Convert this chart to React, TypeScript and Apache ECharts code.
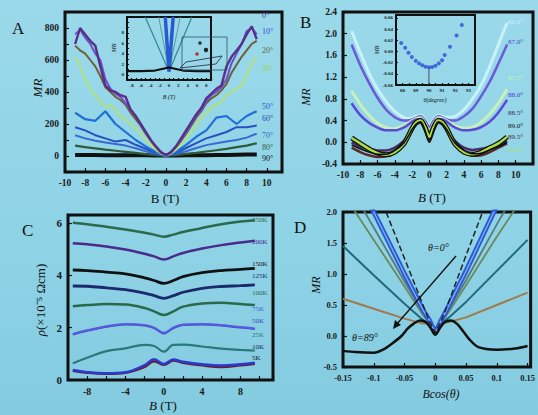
import React, { useEffect, useRef } from 'react';
import * as echarts from 'echarts';

const FONT = 'Liberation Serif';

// ---------- Panel A : MR vs B for tilt angles ----------
const A_X_FINE = [-9,-8.5,-8,-7.5,-7,-6.5,-6,-5.5,-5,-4.5,-4,-3.5,-3,-2.5,-2,-1.5,-1,-0.5,0,0.5,1,1.5,2,2.5,3,3.5,4,4.5,5,5.5,6,6.5,7,7.5,8,8.5,9];
const A_X = [-9,-8,-7,-6,-5,-4,-3,-2,-1,0,1,2,3,4,5,6,7,8,9];
const A_0 = [700,800,760,720,690,560,440,410,400,380,370,290,250,200,150,100,60,25,5,25,60,110,160,210,260,300,360,390,420,440,560,620,660,700,760,810,730];
const A_10 = [760,790,740,700,640,600,480,420,390,370,330,290,250,200,150,100,60,25,5,25,60,100,150,200,250,290,340,380,400,430,480,580,640,700,780,800,760];
const A_20 = [690,660,640,600,560,500,430,400,370,350,320,270,230,190,140,95,55,20,5,20,55,95,140,190,240,280,330,360,380,410,450,520,570,620,660,700,720];
const A_30 = [620,560,480,420,380,340,300,320,290,250,230,200,170,140,100,70,40,15,3,15,40,70,110,150,190,240,270,300,320,340,380,400,420,440,500,580,620];
const A_50 = [270,230,220,280,200,150,100,60,25,2,25,70,120,160,240,250,200,250,280];
const A_60 = [180,160,130,110,90,100,70,45,20,2,20,50,80,110,130,150,180,180,190];
const A_70 = [130,110,95,85,75,65,48,30,14,2,14,30,50,68,80,90,100,115,140];
const A_80 = [65,55,48,40,33,26,19,12,6,2,6,13,20,28,36,45,55,65,80];
const A_90 = [6,6,6,5,5,5,4,4,3,3,3,4,4,5,6,7,8,9,10];
const A_LABELS = ['0°','10°','20°','30°','50°','60°','70°','80°','90°'];

// inset of A
const AIN_X = [-9,-6,-3,-1,0,1,3,6,9];
const AIN_BASE = [0.7,0.7,0.8,1.2,1.4,1.2,0.8,0.7,0.7];
const AIN_V_X1 = [-5.1,0,4.9];
const AIN_V_Y1 = [11,0.6,11];
const AIN_V_X2 = [-2.2,0,2.4];
const AIN_V_Y2 = [11,0.6,11];
const AIN_V_X3 = [-0.8,0,0.9];
const AIN_V_Y3 = [11,0.6,11];

// ---------- Panel B ----------
const B_X = [-9,-8,-7,-6,-5,-4,-3,-2.5,-2,-1.5,-1,-0.5,0,0.5,1,1.5,2,2.5,3,4,5,6,7,8,9];
const B_860 = [2.05,1.65,1.28,0.98,0.75,0.57,0.46,0.44,0.45,0.48,0.5,0.42,0.3,0.42,0.5,0.48,0.46,0.46,0.48,0.6,0.8,1.05,1.4,1.8,2.2];
const B_870 = [1.8,1.42,1.1,0.82,0.6,0.46,0.4,0.4,0.42,0.46,0.48,0.4,0.28,0.4,0.48,0.46,0.42,0.4,0.4,0.48,0.62,0.85,1.12,1.45,1.8];
const B_875 = [0.95,0.7,0.5,0.35,0.27,0.25,0.3,0.35,0.4,0.44,0.45,0.35,0.2,0.35,0.45,0.44,0.4,0.35,0.3,0.26,0.28,0.37,0.52,0.72,0.98];
const B_880 = [0.72,0.5,0.36,0.27,0.22,0.22,0.27,0.32,0.38,0.42,0.43,0.32,0.18,0.32,0.43,0.42,0.38,0.32,0.27,0.22,0.23,0.28,0.38,0.55,0.78];
const B_885 = [0.0,-0.08,-0.12,-0.15,-0.15,-0.1,0.02,0.12,0.25,0.34,0.37,0.25,0.05,0.25,0.37,0.34,0.25,0.12,0.02,-0.1,-0.14,-0.12,-0.08,-0.04,0.02];
const B_890 = [-0.05,-0.12,-0.18,-0.22,-0.22,-0.15,-0.02,0.1,0.24,0.34,0.38,0.22,0.0,0.22,0.38,0.34,0.24,0.1,-0.02,-0.15,-0.21,-0.2,-0.14,-0.08,0.0];
const B_895 = [-0.1,-0.18,-0.24,-0.27,-0.26,-0.18,-0.04,0.08,0.22,0.33,0.36,0.22,0.02,0.22,0.36,0.33,0.22,0.08,-0.04,-0.18,-0.25,-0.24,-0.18,-0.1,-0.02];
const B_900 = [0.08,-0.02,-0.12,-0.2,-0.23,-0.18,-0.04,0.1,0.26,0.37,0.4,0.28,0.1,0.28,0.4,0.37,0.26,0.1,-0.04,-0.18,-0.22,-0.18,-0.1,-0.02,0.1];
const B_LABELS = ['86.0°','87.0°','87.5°','88.0°','88.5°','89.0°','89.5°','90.0°'];

// inset of B
const BIN_X = [87.9,88.2,88.45,88.7,89.0,89.25,89.5,89.75,90.0,90.25,90.5,90.75,91.0,91.2,91.6,92.1,92.5];
const BIN_Y = [0.015,0.0064,-0.0023,-0.0099,-0.0169,-0.0214,-0.0249,-0.0273,-0.0283,-0.0278,-0.0256,-0.0214,-0.0157,-0.0064,0.0082,0.0283,0.047];
const BIN_VLINE_X = [90,90];
const BIN_VLINE_Y = [-0.06,-0.0283];

// ---------- Panel C ----------
const C_X = [-9.5,-8,-6,-4,-2,-1,0,1,2,4,6,8,9.5];
const C_250 = [6.0,5.95,5.85,5.75,5.62,5.55,5.47,5.55,5.65,5.8,5.95,6.05,6.1];
const C_200 = [5.22,5.18,5.1,4.98,4.82,4.72,4.6,4.72,4.85,5.02,5.15,5.25,5.32];
const C_150 = [4.2,4.18,4.12,4.05,3.9,3.8,3.69,3.8,3.95,4.1,4.18,4.22,4.26];
const C_125 = [3.59,3.58,3.52,3.45,3.32,3.22,3.12,3.22,3.35,3.5,3.57,3.6,3.63];
const C_100 = [2.82,2.86,2.9,2.88,2.75,2.62,2.48,2.62,2.8,2.92,2.95,2.9,2.86];
const C_75 = [1.76,1.9,2.05,2.14,2.1,2.0,1.8,2.0,2.12,2.14,2.1,2.02,1.97];
const C_50 = [1.74,1.88,2.03,2.12,2.08,1.98,1.78,1.98,2.1,2.12,2.08,2.0,1.95];
const C_25 = [0.64,0.85,1.1,1.21,1.34,1.3,1.08,1.34,1.35,1.28,1.2,1.15,1.12];
const C_10 = [0.38,0.3,0.26,0.3,0.57,0.79,0.61,0.78,0.7,0.6,0.55,0.6,0.66];
const C_5 = [0.35,0.28,0.24,0.28,0.5,0.72,0.58,0.74,0.66,0.56,0.5,0.56,0.62];
const C_LABELS = ['250K','200K','150K','125K','100K','75K','50K','25K','10K','5K'];

// ---------- Panel D ----------
const D_X = [-0.15,-0.1,-0.05,-0.02,-0.01,0,0.01,0.02,0.05,0.1,0.15];
const D_DASH = [3.75,2.5,1.25,0.5,0.25,0.05,0.25,0.5,1.3,2.6,3.9];
const D_BLUE = [3.0,2.0,1.0,0.42,0.26,0.05,0.26,0.45,1.05,2.1,3.1];
const D_GREY = [2.6,1.75,0.88,0.38,0.24,0.05,0.24,0.4,0.9,1.8,2.65];
const D_OLIVE = [2.3,1.55,0.8,0.34,0.22,0.05,0.22,0.36,0.82,1.6,2.35];
const D_TEAL = [1.45,0.98,0.52,0.26,0.2,0.05,0.2,0.28,0.55,1.05,1.55];
const D_BROWN = [0.6,0.44,0.28,0.2,0.2,0.05,0.2,0.22,0.3,0.5,0.7];
const D89_X = [-0.15,-0.13,-0.1,-0.085,-0.07,-0.055,-0.045,-0.035,-0.025,-0.015,-0.007,0,0.007,0.015,0.025,0.035,0.045,0.055,0.07,0.1,0.13,0.15];
const D89_Y = [-0.24,-0.26,-0.27,-0.22,-0.12,0.0,0.12,0.2,0.25,0.22,0.12,0.02,0.12,0.22,0.25,0.2,0.08,-0.05,-0.18,-0.22,-0.2,-0.16];

// ---------- helpers ----------
const pts = (xs: number[], ys: number[]) => xs.map((x, i) => [x, ys[i]]);
const isMult = (v: number, s: number) => Math.abs(v / s - Math.round(v / s)) < 1e-6;

function axis(gridIndex: number, min: number, max: number, interval: number, fmt: (v: number) => string, size = 10, tickLen = 4) {
  return {
    type: 'value', gridIndex, min, max, interval,
    axisLine: { show: false, onZero: false }, splitLine: { show: false },
    axisTick: { show: true, inside: true, length: tickLen, lineStyle: { color: '#111', width: 1.2 } },
    axisLabel: { formatter: fmt, fontFamily: FONT, fontSize: size, fontWeight: 'bold', color: '#1a1a1a', margin: size < 8 ? 3 : 6 },
  };
}

function line(gi: number, xs: number[], ys: number[], color: string, width: number, extra: any = {}) {
  return {
    type: 'line', xAxisIndex: gi, yAxisIndex: gi, data: pts(xs, ys), showSymbol: false,
    lineStyle: { color, width, ...(extra.lineStyle || {}) }, smooth: extra.smooth ?? false, z: extra.z ?? 2,
    silent: true,
  };
}

function txt(x: number, y: number, text: string, size: number, color = '#111', opts: any = {}) {
  const style: any = {
    text, fill: color, fontSize: size, fontFamily: FONT, fontStyle: opts.italic ? 'italic' : 'normal',
    fontWeight: opts.bold ? 'bold' : 'normal', align: opts.align || 'left', verticalAlign: 'middle',
  };
  if (opts.rich) style.rich = opts.rich;
  return { type: 'text', x, y, rotation: opts.rotation || 0, z: 20, style };
}

function frame(left: number, top: number, width: number, height: number, bw: number) {
  return { left, top, width, height, show: true, borderColor: '#111', borderWidth: bw, backgroundColor: 'transparent' };
}

const A_LABEL_LAYOUT = [
  { y: 15, c: '#4a3a9a' }, { y: 31, c: '#3a4ad0' }, { y: 50, c: '#6a6a3a' }, { y: 68, c: '#9ad84a' },
  { y: 106, c: '#2a5ad0' }, { y: 118, c: '#2a4ab0' }, { y: 135, c: '#3a6ac0' }, { y: 147, c: '#2a5a3a' }, { y: 158, c: '#111' },
];
const B_LABEL_LAYOUT = [
  { y: 22, c: '#c8f2f8' }, { y: 42, c: '#4a4ad0' }, { y: 78, c: '#c8f0b8' }, { y: 95, c: '#4a3ad0' },
  { y: 113, c: '#3a2a5a' }, { y: 126, c: '#111' }, { y: 137, c: '#4a2a3a' }, { y: 150, c: '#a8e070' },
];
const C_LABEL_LAYOUT = [
  { y: 220, c: '#2a6a4a' }, { y: 242, c: '#4a2a8a' }, { y: 264, c: '#111' }, { y: 276, c: '#1a2a6a' }, { y: 293, c: '#2a6a4a' },
  { y: 309, c: '#4a5ad8' }, { y: 321, c: '#3a4ac0' }, { y: 335, c: '#2a7a7a' }, { y: 347, c: '#1a1a5a' }, { y: 358, c: '#111' },
];

export default function App() {
  const ref = useRef<HTMLDivElement>(null);
  useEffect(() => {
    if (!ref.current) return;
    const chart = echarts.init(ref.current, null, { renderer: 'svg' });

    const series: any[] = [
      // A
      line(0, A_X, A_90, '#111', 4),
      line(0, A_X, A_80, '#2f5a3a', 2.2),
      line(0, A_X, A_70, '#3a6ad0', 2),
      line(0, A_X, A_60, '#2a4fc0', 2),
      line(0, A_X, A_50, '#1f6fd6', 2.2),
      line(0, A_X_FINE, A_30, '#b2e07a', 2),
      line(0, A_X_FINE, A_20, '#6e5e3a', 2),
      line(0, A_X_FINE, A_10, '#6a4fc8', 2),
      line(0, A_X_FINE, A_0, '#5a2f8a', 2.4),
      // A inset
      line(1, AIN_V_X1, AIN_V_Y1, '#2f8a8a', 1.2),
      line(1, AIN_V_X2, AIN_V_Y2, '#5a9a9a', 1),
      line(1, AIN_V_X3, AIN_V_Y3, '#2a5ad0', 3.5),
      line(1, AIN_X, AIN_BASE, '#111', 2.2),
      // B
      line(2, B_X, B_860, '#c8f2f8', 3, { smooth: 0.3 }),
      line(2, B_X, B_870, '#6a5ad8', 2.5, { smooth: 0.3 }),
      line(2, B_X, B_875, '#c8f0b8', 3, { smooth: 0.3 }),
      line(2, B_X, B_880, '#5a48d8', 2.5, { smooth: 0.3 }),
      line(2, B_X, B_885, '#4b2a6a', 2.5, { smooth: 0.3 }),
      line(2, B_X, B_895, '#5a2a2a', 2.5, { smooth: 0.3 }),
      line(2, B_X, B_900, '#111', 5, { smooth: 0.3 }),
      line(2, B_X, B_900, '#a8e040', 2.5, { smooth: 0.3 }),
      line(2, B_X, B_890, '#111', 1.5, { smooth: 0.3 }),
      // B inset
      line(3, BIN_VLINE_X, BIN_VLINE_Y, '#333', 0.8),
      { type: 'scatter', xAxisIndex: 3, yAxisIndex: 3, data: pts(BIN_X, BIN_Y), symbolSize: 4, itemStyle: { color: '#2a4fd8' }, silent: true },
      // C
      line(4, C_X, C_250, '#2a6a4a', 2.5, { smooth: 0.4 }),
      line(4, C_X, C_200, '#4a2a8a', 2.5, { smooth: 0.4 }),
      line(4, C_X, C_150, '#111', 2.8, { smooth: 0.4 }),
      line(4, C_X, C_125, '#1a2a6a', 2.8, { smooth: 0.4 }),
      line(4, C_X, C_100, '#2a6a4a', 2.5, { smooth: 0.4 }),
      line(4, C_X, C_50, '#3a4ac0', 2, { smooth: 0.4 }),
      line(4, C_X, C_75, '#5a5ae0', 2, { smooth: 0.4 }),
      line(4, C_X, C_25, '#2a7a7a', 2.2, { smooth: 0.4 }),
      line(4, C_X, C_5, '#6a1a2a', 2.5, { smooth: 0.4 }),
      line(4, C_X, C_10, '#2a3ad0', 2.5, { smooth: 0.4 }),
      // D
      line(5, D_X, D_BROWN, '#a07a4a', 2),
      line(5, D_X, D_TEAL, '#1f6a7a', 2),
      line(5, D_X, D_OLIVE, '#6a8a5a', 1.8),
      line(5, D_X, D_GREY, '#5a7a7a', 1.8),
      line(5, D_X, D_BLUE, '#2a5bd7', 5),
      line(5, D_X, D_BLUE, '#8ab4f5', 1.2),
      line(5, D_X, D_DASH, '#222', 1.5, { lineStyle: { type: 'dashed' } }),
      line(5, D89_X, D89_Y, '#111', 2.5, { smooth: 0.3 }),
    ];

    const graphic: any[] = [
      // 3D sketch in inset A
      { type: 'rect', z: 16, shape: { x: 182, y: 37, width: 45, height: 33 }, style: { fill: 'none', stroke: '#34506a', lineWidth: 0.8 } },
      { type: 'polygon', z: 16, shape: { points: [[186, 62], [222, 56], [216, 64], [180, 68]] }, style: { fill: 'none', stroke: '#223', lineWidth: 0.8 } },
      { type: 'circle', z: 16, shape: { cx: 200, cy: 43, r: 1.8 }, style: { fill: '#333' } },
      { type: 'circle', z: 16, shape: { cx: 206, cy: 50, r: 2.2 }, style: { fill: '#222' } },
      { type: 'circle', z: 16, shape: { cx: 197, cy: 54, r: 1.8 }, style: { fill: '#c03030' } },
      // panel letters
      txt(12, 28, 'A', 17),
      txt(300, 22, 'B', 17),
      txt(22, 230, 'C', 17),
      txt(294, 227, 'D', 17),
      // axis titles
      txt(37, 88, 'MR', 13, '#111', { italic: true, rotation: Math.PI / 2, align: 'center' }),
      txt(165, 198, 'B (T)', 13, '#111', { align: 'center' }),
      txt(306, 97, 'MR', 12, '#111', { italic: true, rotation: Math.PI / 2, align: 'center' }),
      txt(432, 197, '{i|B} (T)', 13, '#111', { align: 'center', rich: { i: { fontStyle: 'italic', fontSize: 13, fontFamily: FONT } } }),
      txt(40, 300, '{i|ρ}(×10⁻⁵ Ωcm)', 13, '#111', { rotation: Math.PI / 2, align: 'center', rich: { i: { fontStyle: 'italic', fontSize: 13, fontFamily: FONT } } }),
      txt(163, 405, '{i|B} (T)', 13, '#111', { align: 'center', rich: { i: { fontStyle: 'italic', fontSize: 13, fontFamily: FONT } } }),
      txt(316, 285, 'MR', 12, '#111', { italic: true, rotation: Math.PI / 2, align: 'center' }),
      txt(441, 394, 'Bcos(θ)', 12, '#111', { italic: true, align: 'center' }),
      // inset titles
      txt(114, 48, 'MR', 6, '#111', { italic: true, rotation: Math.PI / 2, align: 'center' }),
      txt(169, 97, 'B (T)', 6, '#111', { italic: true, align: 'center' }),
      txt(377, 50, 'MR', 6, '#111', { italic: true, rotation: Math.PI / 2, align: 'center' }),
      txt(435, 100, 'θ(degree)', 6, '#111', { italic: true, align: 'center' }),
      // D annotations
      txt(428, 247, 'θ=0°', 10, '#111', { italic: true }),
      txt(352, 337, 'θ=89°', 10, '#111', { italic: true }),
      { type: 'line', z: 18, shape: { x1: 456, y1: 256, x2: 396, y2: 325 }, style: { stroke: '#111', lineWidth: 1.3 } },
      { type: 'polygon', z: 18, shape: { points: [[393, 329], [395, 320], [401, 325]] }, style: { fill: '#111' } },
    ];
    A_LABELS.forEach((t, i) => graphic.push(txt(262, A_LABEL_LAYOUT[i].y, t, 8, A_LABEL_LAYOUT[i].c)));
    B_LABELS.forEach((t, i) => graphic.push(txt(508, B_LABEL_LAYOUT[i].y, t, 7, B_LABEL_LAYOUT[i].c)));
    C_LABELS.forEach((t, i) => graphic.push(txt(252, C_LABEL_LAYOUT[i].y, t, 7, C_LABEL_LAYOUT[i].c)));

    const option: any = {
      animation: false,
      backgroundColor: 'transparent',
      textStyle: { fontFamily: FONT },
      grid: [
        frame(65, 12, 217, 160, 3),
        frame(127, 17, 84, 63, 2),
        frame(343, 12, 190, 152, 3),
        frame(396, 15, 79, 70, 2),
        frame(68, 215, 205, 165, 3),
        frame(343, 212, 195, 155, 3),
      ],
      xAxis: [
        axis(0, -10, 11.5, 2, (v) => (isMult(v, 2) && Math.abs(v) <= 10 ? String(v) : ''), 9.5),
        axis(1, -9, 9, 1, (v) => (isMult(v, 2) ? String(v) : ''), 5, 2),
        axis(2, -10, 12, 2, (v) => (isMult(v, 2) && Math.abs(v) <= 10 ? String(v) : ''), 9.5),
        axis(3, 87.5, 93.5, 0.5, (v) => (isMult(v, 1) ? String(v) : ''), 5, 2),
        axis(4, -10, 11.4, 2, (v) => (isMult(v, 4) && Math.abs(v) <= 8 ? String(v) : ''), 10),
        axis(5, -0.15, 0.155, 0.05, (v) => {
          if (v > 0.151) return '';
          const r = Math.round(v * 100) / 100;
          return Math.abs(r) < 1e-9 ? '0' : String(r);
        }, 8.5),
      ],
      yAxis: [
        axis(0, -100, 900, 100, (v) => (v >= 0 && v <= 800 && isMult(v, 200) ? String(v) : ''), 9.5),
        axis(1, -1, 11, 1, (v) => (v >= 0 && v <= 8 && isMult(v, 2) ? String(v) : ''), 5, 2),
        axis(2, -0.4, 2.4, 0.4, (v) => (isMult(v, 0.4) ? v.toFixed(1) : ''), 9.5),
        axis(3, -0.06, 0.065, 0.02, (v) => (isMult(v, 0.02) ? v.toFixed(2) : ''), 5, 2),
        axis(4, 0, 6.3, 2, (v) => (isMult(v, 2) ? String(v) : ''), 11),
        axis(5, -0.5, 2.0, 0.5, (v) => (isMult(v, 0.5) ? v.toFixed(1) : ''), 8.5),
      ],
      series,
      graphic: { elements: graphic },
    };
    chart.setOption(option);
    return () => chart.dispose();
  }, []);

  return (
    <div
      ref={ref}
      style={{
        position: 'fixed', left: 0, top: 0, width: 538, height: 415,
        background: 'linear-gradient(180deg, #9ad9ea 0%, #8fd3e6 55%, #84cbe0 100%)',
      }}
    />
  );
}
